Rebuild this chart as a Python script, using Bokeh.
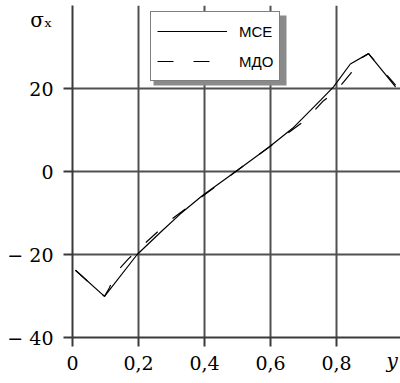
from bokeh.plotting import figure
from bokeh.models import (FixedTicker, Legend, LegendItem, BoxAnnotation, Range1d)
from bokeh.embed import file_html
from bokeh.resources import INLINE

# --- data ---
mce_x = [0.009, 0.097, 0.196, 0.27, 0.327, 0.394, 0.5, 0.594, 0.667, 0.752, 0.791, 0.842, 0.897, 0.979]
mce_y = [-23.8, -30.1, -20.0, -14.4, -10.2, -5.8, 0.3, 5.8, 10.4, 17.2, 20.4, 25.9, 28.4, 20.4]

mdo_x = [0.009, 0.097, 0.112, 0.13, 0.17, 0.21, 0.3, 0.5, 0.7, 0.72, 0.76, 0.8, 0.845, 0.85, 0.897, 0.979]
mdo_y = [-23.8, -30.1, -28.0, -24.5, -21.0, -18.0, -11.5, 0.3, 12.0, 13.6, 17.0, 19.5, 23.8, 26.1, 28.4, 20.8]

x_ticks = [0, 0.2, 0.4, 0.6, 0.8]
x_tick_labels = ["0", "0,2", "0,4", "0,6", "0,8"]
y_ticks = [-40, -20, 0, 20]
y_tick_labels = ["\u2212 40", "\u2212 20", "0", "20"]
series_names = ["\u041c\u0421\u0415", "\u041c\u0414\u041e"]
x_title = "y"
y_title = "\n\u03c3\u2093"

SERIF = "DejaVu Serif"
SANS = "Liberation Sans"
GRID = "#505050"

p = figure(width=400, height=383, output_backend="svg", toolbar_location=None,
           x_range=Range1d(0, 0.994), y_range=Range1d(-40, 40),
           min_border_left=72, min_border_right=0, min_border_top=5, min_border_bottom=46)
p.outline_line_color = None
p.background_fill_color = "white"
p.border_fill_color = "white"

# axes
for ax in (p.xaxis[0], p.yaxis[0]):
    ax.axis_line_color = "#3a3a3a"
    ax.axis_line_width = 2
    ax.major_tick_line_color = "#3a3a3a"
    ax.major_tick_line_width = 2
    ax.major_tick_out = 9
    ax.major_tick_in = 0
    ax.minor_tick_line_color = None
    ax.major_label_text_font = SERIF
    ax.major_label_text_font_size = "19px"
    ax.major_label_text_color = "black"
    ax.axis_label_text_font = SERIF
    ax.axis_label_text_color = "black"

p.xaxis.ticker = FixedTicker(ticks=x_ticks)
p.xaxis.major_label_overrides = dict(zip(x_ticks, x_tick_labels))
p.xaxis.major_label_standoff = 9
p.yaxis.ticker = FixedTicker(ticks=y_ticks)
p.yaxis.major_label_overrides = dict(zip(y_ticks, y_tick_labels))
p.yaxis.major_label_standoff = 10

xa = p.xaxis[0]
ya = p.yaxis[0]
# x title: centred label padded on the left so that "y" sits at the right end
xa.axis_label = "\u00a0" * 49 + x_title
xa.axis_label_text_font_style = "italic"
xa.axis_label_text_font_size = "20px"
ya.axis_label = y_title
ya.axis_label_text_font_style = "normal"
ya.axis_label_text_font_size = "20px"
props = xa.properties()
if "axis_label_align" in props:
    xa.axis_label_align = "center"
    ya.axis_label_align = "end"
if "axis_label_orientation" in props:
    ya.axis_label_orientation = "horizontal"
    xa.axis_label_orientation = "horizontal"
xa.axis_label_standoff = -24
ya.axis_label_standoff = -48

p.xgrid.ticker = FixedTicker(ticks=x_ticks)
p.ygrid.ticker = FixedTicker(ticks=y_ticks + [40])
for g in (p.xgrid[0], p.ygrid[0]):
    g.grid_line_color = GRID
    g.grid_line_width = 2
    g.grid_line_alpha = 1.0

# legend shadow (canvas pixels)
p.add_layout(BoxAnnotation(left=153, right=286, top=15, bottom=85,
                           left_units="canvas", right_units="canvas",
                           top_units="canvas", bottom_units="canvas",
                           fill_color="#8a8a8a", fill_alpha=1.0, line_color=None))

r1 = p.line(mce_x, mce_y, line_color="black", line_width=1.2)
r2 = p.line(mdo_x, mdo_y, line_color="black", line_width=1.2, line_dash="16 20")

legend = Legend(items=[LegendItem(label=series_names[0], renderers=[r1]),
                       LegendItem(label=series_names[1], renderers=[r2])],
                location=(78, 256))
legend.glyph_width = 70
legend.glyph_height = 26
legend.label_standoff = 12
legend.spacing = 4
legend.padding = 6
legend.margin = 0
legend.label_text_font = SANS
legend.label_text_font_size = "15px"
legend.label_text_color = "black"
legend.border_line_color = "black"
legend.border_line_width = 1.5
legend.background_fill_color = "white"
legend.background_fill_alpha = 1.0
p.add_layout(legend)

open("out.html", "w").write(file_html(p, INLINE))
